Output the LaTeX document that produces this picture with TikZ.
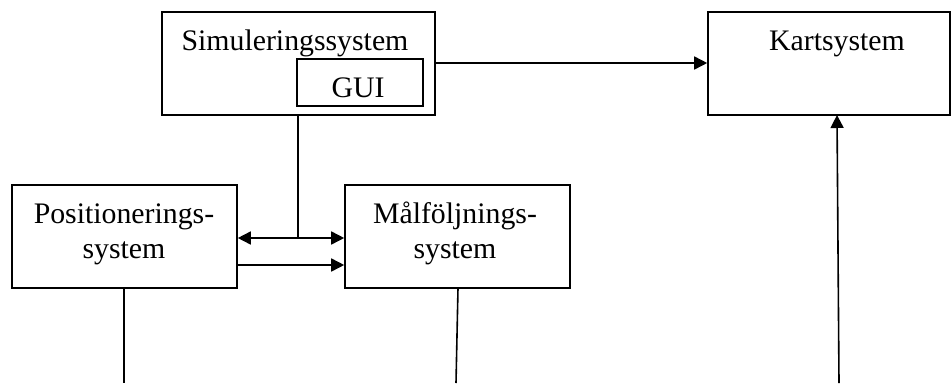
\documentclass[tikz,border=0pt]{standalone}
\usepackage{fontspec}
\setmainfont{Liberation Serif}
\usetikzlibrary{arrows.meta}
\begin{document}
\begin{tikzpicture}[x=1pt,y=-1pt,
  box/.style={draw,line width=1.6pt,inner sep=0pt},
  lbl/.style={anchor=base,inner sep=0pt,font=\fontsize{29.8}{35}\selectfont,align=center},
  conn/.style={line width=1.6pt},
  arr/.style={line width=1.6pt,-{Triangle[length=13pt,width=13pt]}}]
\useasboundingbox (0,0) rectangle (952,383);
% boxes
\node[box,minimum width=273pt,minimum height=103pt] (sim) at (298.5,63.5) {};
\node[box,minimum width=126pt,minimum height=47pt] (gui) at (360,82.5) {};
\node[box,minimum width=242pt,minimum height=103pt] (kart) at (829,63.5) {};
\node[box,minimum width=225pt,minimum height=103pt] (pos) at (124.5,236.5) {};
\node[box,minimum width=225pt,minimum height=103pt] (mal) at (457.5,236.5) {};
% labels
\node[lbl] (simt) at (295,50) {Simuleringssystem};
\node[lbl] (guit) at (358,97) {GUI};
\node[lbl] (kartt) at (837,50) {Kartsystem};
\node[lbl] (post) at (124,258) {Positionerings-\\system};
\node[lbl] (malt) at (455,258) {Målföljnings-\\system};
% coordinates
\coordinate (j) at (298,238);
\coordinate (e1) at (124,383);
\coordinate (e2) at (456,383);
\coordinate (e3) at (839,383);
% connectors
\draw[arr] (sim.east |- 0,63) -- (kart.west |- 0,63);
\draw[conn] (sim.south -| j) -- (j);
\draw[line width=1.6pt,{Triangle[length=13pt,width=13pt]}-{Triangle[length=13pt,width=13pt]}] (pos.east |- j) -- (mal.west |- j);
\draw[arr] (pos.east |- 0,265) -- (mal.west |- 0,265);
\draw[conn] (pos.south -| e1) -- (e1);
\draw[conn] (458,288) -- (e2);
\draw[arr] (e3) -- (837,115);
\end{tikzpicture}
\end{document}
